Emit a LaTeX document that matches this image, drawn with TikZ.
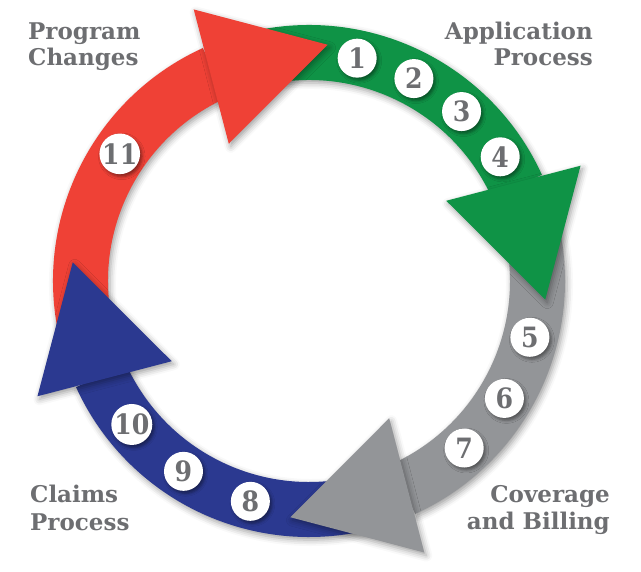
\documentclass[tikz,border=0pt]{standalone}
\usepackage{fontspec}
\usetikzlibrary{shadows.blur}
\newfontfamily\slab{DejaVu Serif Bold}
\newfontfamily\slabnarrow{DejaVu Serif Condensed Bold}
\definecolor{ringred}{HTML}{EF4136}
\definecolor{ringgreen}{HTML}{0F9346}
\definecolor{ringgray}{HTML}{939598}
\definecolor{ringblue}{HTML}{2B3990}
\definecolor{inkgray}{HTML}{6D6E71}

% one curved band of the cycle: colour, start angle, end angle
\newcommand\ringseg[3]{%
  \fill[#1,bandshadow] (#2:256pt) arc[start angle=#2,end angle=#3,radius=256pt]
    -- (#3:201pt) arc[start angle=#3,end angle=#2,radius=201pt] -- cycle;}
% arrowhead whose tip sits at the given angle
\newcommand\ringhead[2]{%
  \fill[#1,bandshadow] (#2:237pt) -- ({#2+27.5}:295pt) -- ({#2+34.8}:159pt) -- cycle;}

\begin{document}
\begin{tikzpicture}[x=1pt,y=1pt,
  bandshadow/.style={blur shadow={shadow xshift=2pt,shadow yshift=-3pt,
      shadow blur radius=6pt,shadow opacity=38}},
  badge/.style={circle,fill=white,minimum size=39pt,inner sep=0pt,
      text=inkgray,font=\slabnarrow\fontsize{28}{28}\selectfont,
      blur shadow={shadow xshift=2pt,shadow yshift=-2.5pt,
      shadow blur radius=3pt,shadow opacity=45}},
  caption/.style={inner sep=0pt,text=inkgray,font=\slab\fontsize{23}{27}\selectfont}]
\useasboundingbox (-309,-291) rectangle (332,281);

% bands
\ringseg{ringred}{193.5}{114.5}
\ringseg{ringgreen}{103.5}{24.5}
\ringseg{ringgray}{13.5}{-65.5}
\ringseg{ringblue}{-76.5}{-155.5}

% arrowheads
\ringhead{ringred}{85.5}
\ringhead{ringgreen}{-4.5}
\ringhead{ringgray}{-94.5}
\ringhead{ringblue}{175.5}

% numbered steps
\node[badge] (s1) at (77.8:228pt) {1};
\node[badge] (s2) at (62.6:228pt) {2};
\node[badge] (s3) at (48:228pt) {3};
\node[badge] (s4) at (33:228pt) {4};
\node[badge] (s5) at (-14.3:228pt) {5};
\node[badge] (s6) at (-31:228pt) {6};
\node[badge] (s7) at (-47.1:228pt) {7};
\node[badge] (s8) at (-104.9:228pt) {8};
\node[badge] (s9) at (-123.4:228pt) {9};
\node[badge] (s10) at (-141:228pt) {10};
\node[badge] (s11) at (146.1:228pt) {11};

% phase captions
\node[caption,anchor=base west] (pc1) at (-281,241) {Program};
\node[caption,anchor=base west] (pc2) at (-281,215) {Changes};
\node[caption,anchor=base east] (ap1) at (284,241) {Application};
\node[caption,anchor=base east] (ap2) at (284,215) {Process};
\node[caption,anchor=base west] (cp1) at (-279,-222) {Claims};
\node[caption,anchor=base west] (cp2) at (-279,-250) {Process};
\node[caption,anchor=base east] (cb1) at (301,-222) {Coverage};
\node[caption,anchor=base east] (cb2) at (301,-249) {and Billing};
\end{tikzpicture}
\end{document}
